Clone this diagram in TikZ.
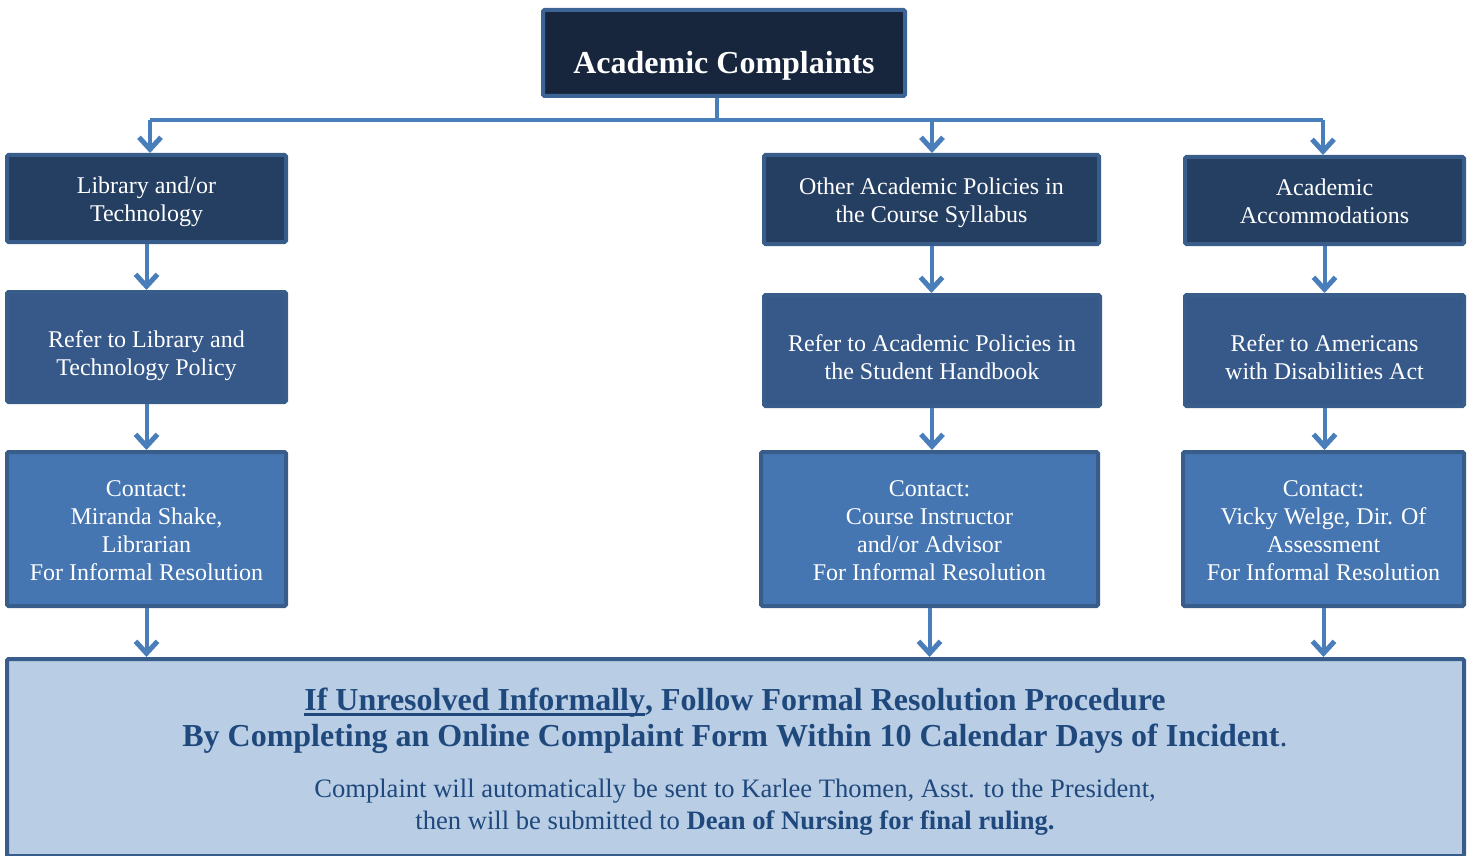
\documentclass[tikz,border=0pt]{standalone}
\usepackage{fontspec}
\setmainfont{Liberation Serif}
\usetikzlibrary{arrows.meta}
\definecolor{topfill}{HTML}{17263D}
\definecolor{topborder}{HTML}{3C6496}
\definecolor{rowone}{HTML}{253F62}
\definecolor{rowtwo}{HTML}{36598A}
\definecolor{rowthree}{HTML}{4576B2}
\definecolor{boxborder}{HTML}{385D8A}
\definecolor{botfill}{HTML}{B9CDE5}
\definecolor{linecol}{HTML}{4A7EBB}
\definecolor{bottext}{HTML}{1F497D}
\newcommand{\thickul}[1]{\setbox0\hbox{#1}\rlap{\rule[-5pt]{\wd0}{2.6pt}}\box0}
\begin{document}
\begin{tikzpicture}[x=1pt,y=-1pt,
  box/.style={draw=boxborder, line width=4pt, rounded corners=1.5pt, inner sep=0pt},
  tx/.style={inner sep=0pt, align=center, text=white, font=\fontsize{24}{28}\selectfont},
  conn/.style={draw=linecol, line width=4pt},
  arr/.style={conn, -{Straight Barb[length=12pt,width=22pt,line width=5pt]}},
  lbl/.style={inner sep=0pt, align=center, text=bottext}]
\useasboundingbox (0,0) rectangle (1473,856);

% top
\node[box, draw=topborder, fill=topfill, minimum width=362pt, minimum height=86pt,
  label={[tx, yshift=-13pt, font=\fontsize{32}{36}\selectfont\bfseries]center:Academic Complaints}] (top) at (724,53) {};

% row 1
\node[box, fill=rowone, minimum width=279pt, minimum height=87pt,
  label={[tx, yshift=-3.5pt]center:{Library and/or\\Technology}}] (a1) at (146.5,198.5) {};
\node[box, fill=rowone, minimum width=335pt, minimum height=89pt,
  label={[tx, yshift=-3pt]center:{Other Academic Policies in\\the Course Syllabus}}] (b1) at (931.5,199.5) {};
\node[box, fill=rowone, minimum width=279pt, minimum height=87pt,
  label={[tx, yshift=-1pt]center:{Academic\\Accommodations}}] (c1) at (1324.5,200.5) {};

% row 2
\node[box, fill=rowtwo, minimum width=279pt, minimum height=110pt,
  label={[tx, yshift=-9pt]center:{Refer to Library and\\Technology Policy}}] (a2) at (146.5,347) {};
\node[box, fill=rowtwo, minimum width=336pt, minimum height=111pt,
  label={[tx, yshift=-6.5pt]center:{Refer to Academic Policies in\\the Student Handbook}}] (b2) at (932,350.5) {};
\node[box, fill=rowtwo, minimum width=279pt, minimum height=111pt,
  label={[tx, yshift=-6.5pt]center:{Refer to Americans\\with Disabilities Act}}] (c2) at (1324.5,350.5) {};

% row 3
\node[box, fill=rowthree, minimum width=279pt, minimum height=154pt,
  label={[tx, yshift=-1.5pt]center:{Contact:\\Miranda Shake,\\Librarian\\For Informal Resolution}}] (a3) at (146.5,529) {};
\node[box, fill=rowthree, minimum width=337pt, minimum height=154pt,
  label={[tx, yshift=-1.5pt]center:{Contact:\\Course Instructor\\and/or Advisor\\For Informal Resolution}}] (b3) at (929.5,529) {};
\node[box, fill=rowthree, minimum width=281pt, minimum height=154pt,
  label={[tx, yshift=-1.5pt]center:{Contact:\\Vicky Welge, Dir. Of\\Assessment\\For Informal Resolution}}] (c3) at (1323.5,529) {};

% bottom
\node[box, fill=botfill, minimum width=1457pt, minimum height=197pt] (bot) at (735.5,757.5) {};
\node[lbl, font=\fontsize{32}{36}\selectfont\bfseries] (bt1) at (735,721)
  {\thickul{If Unresolved Informally}, Follow Formal Resolution Procedure\\By Completing an Online Complaint Form Within 10 Calendar Days of Incident\mdseries.};
\node[lbl, font=\fontsize{26.6}{32}\selectfont] (bt2) at (735,807)
  {Complaint will automatically be sent to Karlee Thomen, Asst. to the President,\\then will be submitted to \textbf{Dean of Nursing for final ruling.}};

% connectors
\coordinate (j) at (717,120);
\coordinate (hl) at (150,120);
\coordinate (hm) at (932,120);
\coordinate (hr) at (1323,120);
\draw[conn] (top.south -| j) -- (j);
\draw[conn] (hl) -- (hr);
\draw[arr] (hl) -- (hl |- a1.north);
\draw[arr] (hm) -- (hm |- b1.north);
\draw[arr] (hr) -- (hr |- c1.north);

\draw[arr] (a1.south) -- (a2.north);
\draw[arr] (b1.south) -- (b1.south |- b2.north);
\draw[arr] (c1.south) -- (c2.north);
\draw[arr] (a2.south) -- (a3.north);
\draw[arr] (b2.south) -- (b2.south |- b3.north);
\draw[arr] (c2.south) -- (c2.south |- c3.north);
\draw[arr] (a3.south) -- (a3.south |- bot.north);
\draw[arr] (b3.south) -- (b3.south |- bot.north);
\draw[arr] (c3.south) -- (c3.south |- bot.north);
\end{tikzpicture}
\end{document}
